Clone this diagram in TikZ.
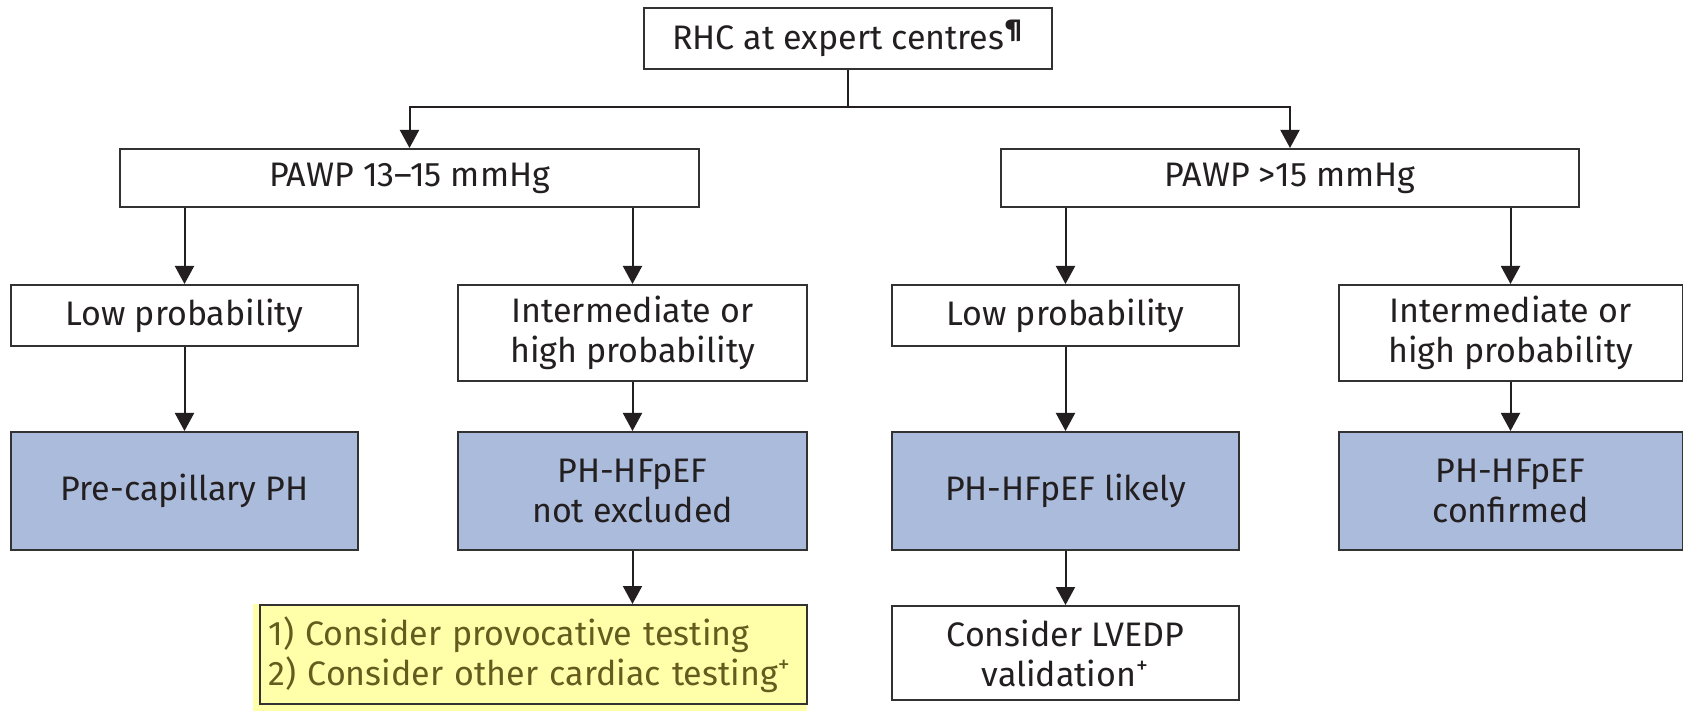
\documentclass[tikz,border=0pt]{standalone}
\usepackage{fontspec}
\setmainfont{Fira Sans}
\usetikzlibrary{arrows.meta}
\definecolor{txt}{RGB}{35,31,32}
\definecolor{bluebox}{RGB}{171,187,219}
\definecolor{yelbox}{RGB}{255,255,170}
\definecolor{olive}{RGB}{100,92,30}
\definecolor{edge}{RGB}{50,50,50}
\tikzset{
  box/.style={draw=edge, line width=1pt, rectangle, inner sep=0pt, align=center,
    text=txt, font=\fontsize{17}{20}\selectfont},
  bluefill/.style={box, fill=bluebox},
  arr/.style={draw=txt, line width=1pt, -{Triangle[length=9pt,width=9.5pt]}},
  ln/.style={draw=txt, line width=1pt}
}
\begin{document}
\begin{tikzpicture}[x=0.5pt,y=-0.5pt]
\useasboundingbox (0,0) rectangle (1683,711);
\fill[white] (0,0) rectangle (1683,711);
% yellow highlight behind
\fill[yelbox] (253,604) rectangle (807,711);

\node[box, minimum width=204pt, minimum height=30.5pt] (rhc) at (848,38.5) {RHC at expert centres\textsuperscript{\bfseries ¶}};
\node[box, minimum width=289.5pt, minimum height=29pt] (p13) at (409.5,178) {PAWP 13–15 mmHg};
\node[box, minimum width=289pt, minimum height=29pt] (p15) at (1290,178) {PAWP >15 mmHg};

\node[box, minimum width=173.5pt, minimum height=30.5pt] (low1) at (184.5,315.5) {Low probability};
\node[box, minimum width=174.5pt, minimum height=48pt] (int1) at (632.5,333) {Intermediate or\\high probability};
\node[box, minimum width=173.5pt, minimum height=30.5pt] (low2) at (1065.5,315.5) {Low probability};
\node[box, minimum width=172pt, minimum height=48pt] (int2) at (1510.5,333) {Intermediate or\\high probability};

\node[bluefill, minimum width=173.5pt, minimum height=59pt] (pre) at (184.5,491) {Pre-capillary PH};
\node[bluefill, minimum width=174.5pt, minimum height=59pt] (nex) at (632.5,491) {PH-HFpEF\\not excluded};
\node[bluefill, minimum width=173.5pt, minimum height=59pt] (lik) at (1065.5,491) {PH-HFpEF likely};
\node[bluefill, minimum width=172pt, minimum height=59pt] (con) at (1510.5,491) {PH-HFpEF\\confirmed};

\node[box, fill=yelbox, text=olive, align=left, minimum width=273.5pt, minimum height=49.5pt, text width=265pt] (yel) at (533.5,654.5) {1) Consider provocative testing\\2) Consider other cardiac testing\textsuperscript{+}};
\node[box, minimum width=173.5pt, minimum height=47pt] (lve) at (1065.5,653) {Consider LVEDP\\validation\textsuperscript{+}};

\coordinate (bar) at (848,107);
\draw[ln] (rhc.south) -- (bar);
\draw[arr] (bar) -| (p13.north);
\draw[arr] (bar) -| (p15.north);

\draw[arr] (p13.south -| low1.north) -- (low1.north);
\draw[arr] (p13.south -| int1.north) -- (int1.north);
\draw[arr] (p15.south -| low2.north) -- (low2.north);
\draw[arr] (p15.south -| int2.north) -- (int2.north);

\draw[arr] (low1.south) -- (pre.north);
\draw[arr] (int1.south) -- (nex.north);
\draw[arr] (low2.south) -- (lik.north);
\draw[arr] (int2.south) -- (con.north);

\draw[arr] (nex.south) -- (nex.south |- yel.north);
\draw[arr] (lik.south) -- (lve.north);
\end{tikzpicture}
\end{document}
